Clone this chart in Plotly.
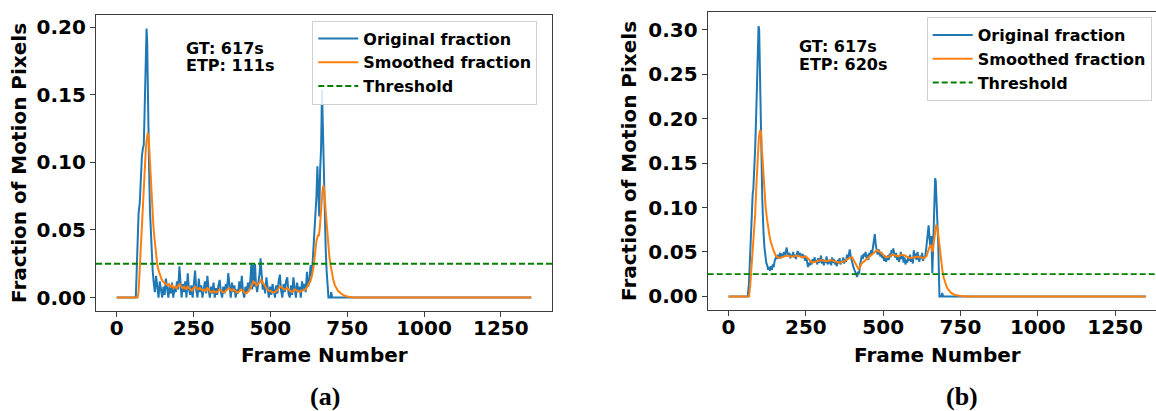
import plotly.graph_objects as go

# ---------------- data: panel (a) ----------------
a_orig_frames = [0, 62, 65, 68, 71, 75, 78, 82, 85, 88, 91, 94, 97, 99, 101, 103, 105, 108, 111, 114, 117,
                 120, 124, 128, 132, 136, 140, 144, 148, 152, 156, 160, 164, 168, 172, 176, 180, 184, 188, 192, 196,
                 200, 204, 207, 211, 215, 219, 223, 227, 231, 235, 239, 243, 247, 251, 255, 259, 263, 267, 271, 275,
                 279, 283, 287, 291, 295, 299, 303, 307, 311, 315, 319, 323, 327, 331, 335, 339, 343, 347, 351, 355,
                 359, 363, 367, 371, 375, 379, 383, 387, 391, 395, 399, 403, 407, 411, 415, 419, 423, 427, 431, 435,
                 438, 441, 444, 447, 450, 453, 457, 461, 465, 468, 471, 475, 479, 483, 487, 491, 495, 499, 503, 507,
                 511, 515, 519, 523, 527, 531, 535, 539, 543, 547, 551, 555, 559, 563, 567, 571, 575, 579, 583, 587,
                 591, 595, 599, 603, 607, 611, 615, 619, 623, 627, 631, 635, 639, 643, 647, 650, 653, 656, 659, 662,
                 665, 668, 671, 674, 677, 680, 683, 686, 689, 695, 698, 701, 1349]
a_orig_vals = [0.0, 0.0, 0.02, 0.045, 0.062, 0.07, 0.09, 0.105, 0.11, 0.113, 0.14, 0.17, 0.199, 0.19, 0.15, 0.122, 0.10, 0.065, 0.045, 0.03, 0.02,
               0.012, 0.004, 0.016, 0.006, 0.0, 0.012, 0.005, 0.0, 0.008, 0.002, 0.014, 0.005, 0.0, 0.009, 0.003, 0.011, 0.0, 0.007, 0.004, 0.012,
               0.006, 0.023, 0.008, 0.0, 0.01, 0.004, 0.012, 0.0, 0.018, 0.006, 0.002, 0.009, 0.0, 0.011, 0.02, 0.005, 0.0, 0.014, 0.004, 0.009,
               0.0, 0.006, 0.012, 0.003, 0.016, 0.006, 0.0, 0.008, 0.003, 0.011, 0.0, 0.007, 0.002, 0.009, 0.013, 0.004, 0.0, 0.008, 0.003, 0.01,
               0.006, 0.018, 0.007, 0.0, 0.011, 0.004, 0.009, 0.0, 0.006, 0.003, 0.012, 0.005, 0.016, 0.004, 0.0, 0.008, 0.003, 0.011, 0.006, 0.013,
               0.025, 0.006, 0.024, 0.008, 0.025, 0.01, 0.004, 0.012, 0.018, 0.029, 0.014, 0.006, 0.01, 0.003, 0.015, 0.005, 0.0, 0.008, 0.002, 0.01,
               0.004, 0.0, 0.009, 0.003, 0.012, 0.017, 0.005, 0.0, 0.01, 0.004, 0.012, 0.015, 0.003, 0.0, 0.009, 0.002, 0.015, 0.006, 0.0, 0.011,
               0.004, 0.008, 0.0, 0.012, 0.006, 0.01, 0.004, 0.019, 0.008, 0.013, 0.024, 0.016, 0.03, 0.045, 0.061, 0.075, 0.097, 0.07, 0.06, 0.095,
               0.11, 0.154, 0.12, 0.086, 0.06, 0.036, 0.02, 0.01, 0.0, 0.0, 0.004, 0.0, 0.0]

a_smooth_frames = [0, 68, 71, 74, 77, 80, 83, 86, 89, 92, 95, 98, 101, 104, 107, 110, 113, 116, 119, 122, 125, 128, 131, 135,
                   140, 145, 150, 155, 160, 165, 170, 175, 180, 185, 190, 195, 200, 205, 210, 215, 220, 225, 230, 235, 240,
                   245, 250, 255, 260, 265, 270, 275, 280, 285, 290, 295, 300, 305, 310, 315, 320, 325, 330, 335, 340, 345,
                   350, 355, 360, 365, 370, 375, 380, 385, 390, 395, 400, 405, 410, 415, 420, 425, 430, 435, 440, 445, 450,
                   455, 460, 465, 470, 475, 480, 485, 490, 495, 500, 505, 510, 515, 520, 525, 530, 535, 540, 545, 550, 555,
                   560, 565, 570, 575, 580, 585, 590, 595, 600, 605, 610, 615, 620, 625, 630, 635, 640, 645, 650, 655, 658,
                   661, 664, 667, 670, 673, 676, 680, 684, 688, 692, 696, 700, 705, 710, 715, 720, 730, 740, 750, 770, 1349]
a_smooth_vals = [0.0, 0.0, 0.004, 0.018, 0.036, 0.05, 0.064, 0.08, 0.092, 0.103, 0.111, 0.117, 0.122, 0.118, 0.104, 0.088, 0.077, 0.066, 0.054, 0.046, 0.038, 0.032, 0.026, 0.021,
                 0.017, 0.014, 0.012, 0.011, 0.01, 0.009, 0.01, 0.008, 0.009, 0.007, 0.008, 0.007, 0.009, 0.01, 0.008, 0.007, 0.008, 0.006, 0.008, 0.007, 0.006,
                 0.005, 0.007, 0.008, 0.007, 0.006, 0.007, 0.006, 0.005, 0.006, 0.005, 0.007, 0.006, 0.004, 0.004, 0.005, 0.004, 0.004, 0.005, 0.006, 0.005, 0.004,
                 0.004, 0.005, 0.006, 0.007, 0.006, 0.005, 0.006, 0.005, 0.004, 0.004, 0.005, 0.006, 0.005, 0.004, 0.003, 0.004, 0.005, 0.007, 0.01, 0.012, 0.011,
                 0.009, 0.01, 0.011, 0.013, 0.011, 0.009, 0.007, 0.006, 0.005, 0.005, 0.004, 0.004, 0.004, 0.005, 0.006, 0.008, 0.008, 0.007, 0.006, 0.006, 0.007,
                 0.006, 0.005, 0.004, 0.005, 0.006, 0.005, 0.005, 0.004, 0.005, 0.005, 0.006, 0.006, 0.008, 0.01, 0.012, 0.016, 0.022, 0.032, 0.042, 0.046, 0.046,
                 0.052, 0.062, 0.072, 0.08, 0.083, 0.077, 0.064, 0.05, 0.039, 0.03, 0.024, 0.018, 0.013, 0.009, 0.007, 0.005, 0.003, 0.0015, 0.0008, 0.0, 0.0]

# ---------------- data: panel (b) ----------------
b_orig_frames = [0, 62, 66, 70, 73, 76, 78, 80, 83, 86, 89, 92, 95, 97, 99, 101, 103, 105, 107, 109, 111, 113, 116, 119,
                 122, 125, 128, 131, 134, 137, 140, 143, 146, 149, 152, 155, 158, 161, 164, 167, 170, 173, 176, 179, 182,
                 185, 188, 191, 194, 197, 200, 203, 206, 209, 212, 215, 218, 221, 224, 227, 230, 233, 236, 239, 242, 245,
                 248, 251, 254, 257, 260, 263, 266, 269, 272, 275, 278, 281, 284, 287, 290, 293, 296, 299, 302, 305, 308,
                 311, 314, 317, 320, 323, 326, 329, 332, 335, 338, 341, 344, 347, 350, 353, 356, 359, 362, 365, 368, 371,
                 374, 377, 380, 383, 386, 389, 392, 395, 398, 401, 404, 407, 410, 413, 416, 419, 422, 425, 428, 431, 434,
                 437, 440, 443, 446, 449, 452, 455, 458, 461, 464, 467, 470, 473, 476, 479, 482, 485, 488, 491, 494, 497,
                 500, 503, 506, 509, 512, 515, 518, 521, 524, 527, 530, 533, 536, 539, 542, 545, 548, 551, 554, 557, 560,
                 563, 566, 569, 572, 575, 578, 581, 584, 587, 590, 593, 596, 599, 602, 605, 608, 611, 614, 617, 620, 623,
                 626, 629, 632, 635, 638, 641, 644, 647, 650, 653, 656, 659, 662, 665, 668, 670, 672, 675, 678, 680, 682,
                 688, 691, 694, 1349]
b_orig_vals = [0.0, 0.0, 0.015, 0.054, 0.075, 0.1, 0.115, 0.12, 0.14, 0.166, 0.2, 0.245, 0.28, 0.304, 0.3, 0.27, 0.24, 0.195, 0.15, 0.11, 0.085, 0.072, 0.055, 0.045,
               0.038, 0.035, 0.03, 0.033, 0.029, 0.034, 0.03, 0.036, 0.033, 0.04, 0.044, 0.046, 0.042, 0.047, 0.045, 0.049, 0.043, 0.048, 0.044, 0.05, 0.046,
               0.052, 0.055, 0.047, 0.045, 0.049, 0.043, 0.047, 0.045, 0.05, 0.044, 0.047, 0.042, 0.048, 0.051, 0.045, 0.049, 0.046, 0.044, 0.048, 0.043, 0.046,
               0.04, 0.045, 0.037, 0.033, 0.038, 0.035, 0.04, 0.036, 0.042, 0.038, 0.044, 0.039, 0.041, 0.036, 0.043, 0.038, 0.04, 0.046, 0.037, 0.042, 0.035,
               0.041, 0.038, 0.045, 0.036, 0.041, 0.037, 0.04, 0.035, 0.044, 0.038, 0.042, 0.036, 0.039, 0.034, 0.041, 0.037, 0.043, 0.036, 0.04, 0.038, 0.044,
               0.037, 0.042, 0.039, 0.047, 0.042, 0.05, 0.053, 0.045, 0.04, 0.036, 0.033, 0.03, 0.027, 0.024, 0.022, 0.028, 0.025, 0.035, 0.04, 0.046, 0.042,
               0.048, 0.045, 0.05, 0.043, 0.047, 0.041, 0.049, 0.046, 0.052, 0.048, 0.055, 0.058, 0.07, 0.058, 0.05, 0.047, 0.053, 0.048, 0.045, 0.05, 0.043,
               0.046, 0.04, 0.044, 0.039, 0.042, 0.046, 0.041, 0.048, 0.044, 0.052, 0.049, 0.054, 0.047, 0.044, 0.049, 0.041, 0.046, 0.039, 0.043, 0.05, 0.042,
               0.047, 0.038, 0.044, 0.036, 0.041, 0.038, 0.045, 0.04, 0.047, 0.039, 0.044, 0.037, 0.052, 0.043, 0.048, 0.041, 0.05, 0.044, 0.039, 0.046, 0.042,
               0.049, 0.04, 0.045, 0.043, 0.05, 0.062, 0.07, 0.08, 0.065, 0.055, 0.068, 0.026, 0.06, 0.1, 0.133, 0.13, 0.115, 0.09, 0.06, 0.03, 0.0,
               0.0, 0.004, 0.0, 0.0]

b_smooth_frames = [0, 66, 70, 74, 78, 82, 86, 90, 94, 98, 102, 105, 108, 111, 114, 117, 120, 124, 128, 132, 136, 140, 145, 150,
                   155, 160, 165, 170, 180, 190, 200, 210, 220, 230, 240, 250, 260, 270, 280, 290, 300, 310, 320, 330, 340,
                   350, 360, 370, 380, 390, 400, 405, 410, 415, 420, 425, 430, 440, 450, 460, 470, 480, 490, 500, 510, 520,
                   530, 540, 550, 560, 570, 580, 590, 600, 610, 620, 630, 640, 645, 650, 655, 660, 664, 668, 672, 676, 680,
                   684, 688, 692, 696, 700, 705, 710, 720, 730, 745, 770, 1349]
b_smooth_vals = [0.0, 0.0, 0.012, 0.03, 0.05, 0.07, 0.092, 0.125, 0.158, 0.178, 0.187, 0.185, 0.165, 0.145, 0.128, 0.112, 0.1, 0.088, 0.077, 0.069, 0.062, 0.057, 0.052, 0.048,
                 0.045, 0.044, 0.043, 0.044, 0.045, 0.046, 0.045, 0.045, 0.046, 0.045, 0.044, 0.045, 0.042, 0.038, 0.039, 0.04, 0.041, 0.04, 0.04, 0.041, 0.04,
                 0.039, 0.038, 0.039, 0.041, 0.043, 0.044, 0.041, 0.037, 0.034, 0.031, 0.033, 0.037, 0.04, 0.043, 0.046, 0.05, 0.052, 0.05, 0.047, 0.044, 0.045,
                 0.047, 0.046, 0.045, 0.047, 0.046, 0.044, 0.043, 0.044, 0.045, 0.044, 0.043, 0.045, 0.05, 0.056, 0.058, 0.05, 0.062, 0.075, 0.081, 0.076, 0.064,
                 0.05, 0.037, 0.028, 0.021, 0.016, 0.011, 0.008, 0.004, 0.002, 0.0008, 0.0, 0.0]

threshold = 0.025
x_ticks = [0, 250, 500, 750, 1000, 1250]
a_y_ticks = [0.0, 0.05, 0.10, 0.15, 0.20]
b_y_ticks = [0.0, 0.05, 0.10, 0.15, 0.20, 0.25, 0.30]
names = ["Original fraction", "Smoothed fraction", "Threshold"]
notes_a = ["GT: 617s", "ETP: 111s"]
notes_b = ["GT: 617s", "ETP: 620s"]

# ---------------- layout helpers ----------------
W, H = 1156, 411
def px(x):
    return x / W
def py(y):
    return 1 - y / H

a_xrange = [-67.45, 1416.45]
b_xrange = [-67.45, 1382.3]
a_yrange = [-0.00995, 0.20895]
b_yrange = [-0.01525, 0.32025]

BLUE, ORANGE, GREEN = "#1f77b4", "#ff7f0e", "#008000"
FRAME = "#3c3c3c"
FONT = "DejaVu Sans"

fig = go.Figure()

def add_panel(xa, ya, leg, fo, vo, fs, vs, xr):
    fig.add_trace(go.Scatter(x=fo, y=vo, mode="lines", name=names[0], xaxis=xa, yaxis=ya, legend=leg,
                             line=dict(color=BLUE, width=2)))
    fig.add_trace(go.Scatter(x=fs, y=vs, mode="lines", name=names[1], xaxis=xa, yaxis=ya, legend=leg,
                             line=dict(color=ORANGE, width=2)))
    fig.add_trace(go.Scatter(x=xr, y=[threshold, threshold], mode="lines", name=names[2], xaxis=xa, yaxis=ya,
                             legend=leg, line=dict(color=GREEN, width=1.8, dash="6px,3px")))

add_panel("x", "y", "legend", a_orig_frames, a_orig_vals, a_smooth_frames, a_smooth_vals, a_xrange)
add_panel("x2", "y2", "legend2", b_orig_frames, b_orig_vals, b_smooth_frames, b_smooth_vals, b_xrange)

tickfont = dict(family=FONT, size=20, color="black", weight="bold")
common_x = dict(showgrid=False, zeroline=False, showline=True, linecolor=FRAME, linewidth=1.2,
                ticks="outside", ticklen=5, tickwidth=1.2, tickcolor=FRAME, tickfont=tickfont,
                ticklabelstandoff=-6,
                tickvals=x_ticks, ticktext=[str(v) for v in x_ticks])
common_y = dict(showgrid=False, zeroline=False, showline=True, linecolor=FRAME, linewidth=1.2,
                ticks="outside", ticklen=5, tickwidth=1.2, tickcolor=FRAME, tickfont=tickfont,
                tickformat=".2f")

legend_style = dict(font=dict(family=FONT, size=16, color="black", weight="bold"),
                    bgcolor="rgba(255,255,255,0.85)", bordercolor="#d0d0d0", borderwidth=1,
                    xanchor="left", yanchor="top", itemwidth=40, tracegroupgap=0)

fig.update_layout(
    width=W, height=H, autosize=False,
    margin=dict(l=0, r=0, t=0, b=0),
    paper_bgcolor="white", plot_bgcolor="white",
    showlegend=True,
    xaxis=dict(domain=[px(96), px(552)], range=a_xrange, mirror=True, anchor="y", **common_x),
    yaxis=dict(domain=[py(311), py(15)], range=a_yrange, mirror=True, anchor="x", tickvals=a_y_ticks, **common_y),
    xaxis2=dict(domain=[px(707.7), 1.0], range=b_xrange, mirror=True, anchor="y2", **common_x),
    yaxis2=dict(domain=[py(310), py(11.7)], range=b_yrange, mirror=False, anchor="x2", tickvals=b_y_ticks, **common_y),
    legend=dict(x=px(312.3), y=py(20.5), **legend_style),
    legend2=dict(x=px(926.7), y=py(17), **legend_style),
)

ann_font = dict(family=FONT, size=16, color="black", weight="bold")
title_font = dict(family=FONT, size=20, color="black", weight="bold")
cap_font = dict(family="Liberation Serif", size=26, color="black", weight="bold")

annotations = [
    dict(text=notes_a[0], x=px(184), y=py(48.5), xanchor="left", yanchor="middle", font=ann_font),
    dict(text=notes_a[1], x=px(184), y=py(65.5), xanchor="left", yanchor="middle", font=ann_font),
    dict(text=notes_b[0], x=px(797.3), y=py(47), xanchor="left", yanchor="middle", font=ann_font),
    dict(text=notes_b[1], x=px(797.3), y=py(64.5), xanchor="left", yanchor="middle", font=ann_font),
    dict(text="Fraction of Motion Pixels", x=px(19), y=py(163), textangle=-90, xanchor="center", yanchor="middle", font=title_font),
    dict(text="Fraction of Motion Pixels", x=px(629), y=py(161), textangle=-90, xanchor="center", yanchor="middle", font=title_font),
    dict(text="Frame Number", x=px(324), y=py(355), xanchor="center", yanchor="middle", font=title_font),
    dict(text="Frame Number", x=px(937), y=py(355), xanchor="center", yanchor="middle", font=title_font),
    dict(text="(a)", x=px(325), y=py(396), xanchor="center", yanchor="middle", font=cap_font),
    dict(text="(b)", x=px(962), y=py(396), xanchor="center", yanchor="middle", font=cap_font),
]
for a in annotations:
    a.update(xref="paper", yref="paper", showarrow=False)
fig.update_layout(annotations=annotations)

fig.write_html("out.html")
